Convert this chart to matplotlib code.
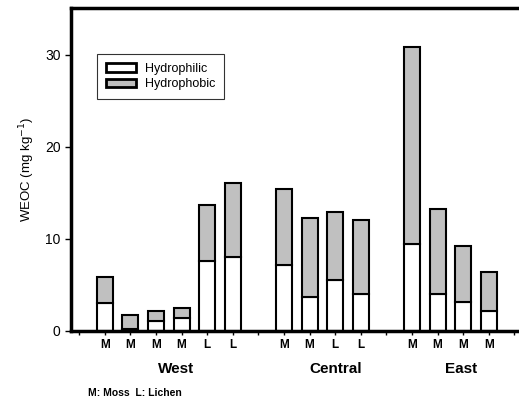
import matplotlib.pyplot as plt
import numpy as np

plt.rcParams['font.family'] = ['Liberation Sans', 'DejaVu Sans']

# bar positions (gaps at 6 and 11 between sites)
pos = [0, 1, 2, 3, 4, 5, 7, 8, 9, 10, 12, 13, 14, 15]
veg = ['M', 'M', 'M', 'M', 'L', 'L', 'M', 'M', 'L', 'L', 'M', 'M', 'M', 'M']
hydrophilic = [3.0, 0.25, 1.05, 1.38, 7.6, 8.0, 7.14, 3.66, 5.54, 4.02, 9.49, 3.99, 3.19, 2.21]
total = [5.9, 1.74, 2.17, 2.53, 13.7, 16.05, 15.43, 12.25, 12.97, 12.07, 30.84, 13.26, 9.2, 6.41]
hydrophobic = [t - h for t, h in zip(total, hydrophilic)]

sites = ['West', 'Central', 'East']
site_x = [2.8, 9.0, 13.9]

fig = plt.figure(figsize=(5.19, 4.03), dpi=100)
ax = fig.add_axes([0.1368, 0.1787, 0.879, 0.8013])

w = 0.63
ax.bar(pos, hydrophilic, w, color='white', edgecolor='black', linewidth=1.5,
       label='Hydrophilic', zorder=2)
ax.bar(pos, hydrophobic, w, bottom=hydrophilic, color='#c0c0c0', edgecolor='black',
       linewidth=1.5, label='Hydrophobic', zorder=2)

ax.set_xlim(-1.32, 16.5)
ax.set_ylim(0, 35.1)

ticks = list(range(-1, 17))
labels = []
for t in ticks:
    labels.append(veg[pos.index(t)] if t in pos else '')
ax.set_xticks(ticks)
ax.set_xticklabels(labels, fontsize=8.5, fontweight='bold')
ax.set_yticks([0, 10, 20, 30])
ax.set_yticklabels(['0', '10', '20', '30'], fontsize=10)
ax.tick_params(axis='x', direction='out', length=3, width=1, pad=3)
ax.tick_params(axis='y', direction='out', length=4, width=1)

for s in ['left', 'top', 'bottom']:
    ax.spines[s].set_linewidth(2.5)
ax.spines['right'].set_visible(False)

ax.set_ylabel('WEOC (mg kg$^{-1}$)', fontsize=9.5, labelpad=6)

for name, x in zip(sites, site_x):
    ax.text(x, -4.1, name, ha='center', va='center', fontsize=11,
            fontweight='bold', transform=ax.transData)

fig.text(88 / 519, 1 - 393 / 403, 'M: Moss  L: Lichen', fontsize=7.5,
         fontweight='bold', va='center')

leg = ax.legend(loc='upper left', bbox_to_anchor=(0.057, 0.858), borderaxespad=0,
                fontsize=9, frameon=True, fancybox=False, edgecolor='black',
                handlelength=2.4, handleheight=0.7, handletextpad=0.7,
                borderpad=0.7, labelspacing=0.3)
leg.get_frame().set_linewidth(0.8)
for p in leg.get_patches():
    p.set_linewidth(2)

fig.savefig('out.png', dpi=100)
